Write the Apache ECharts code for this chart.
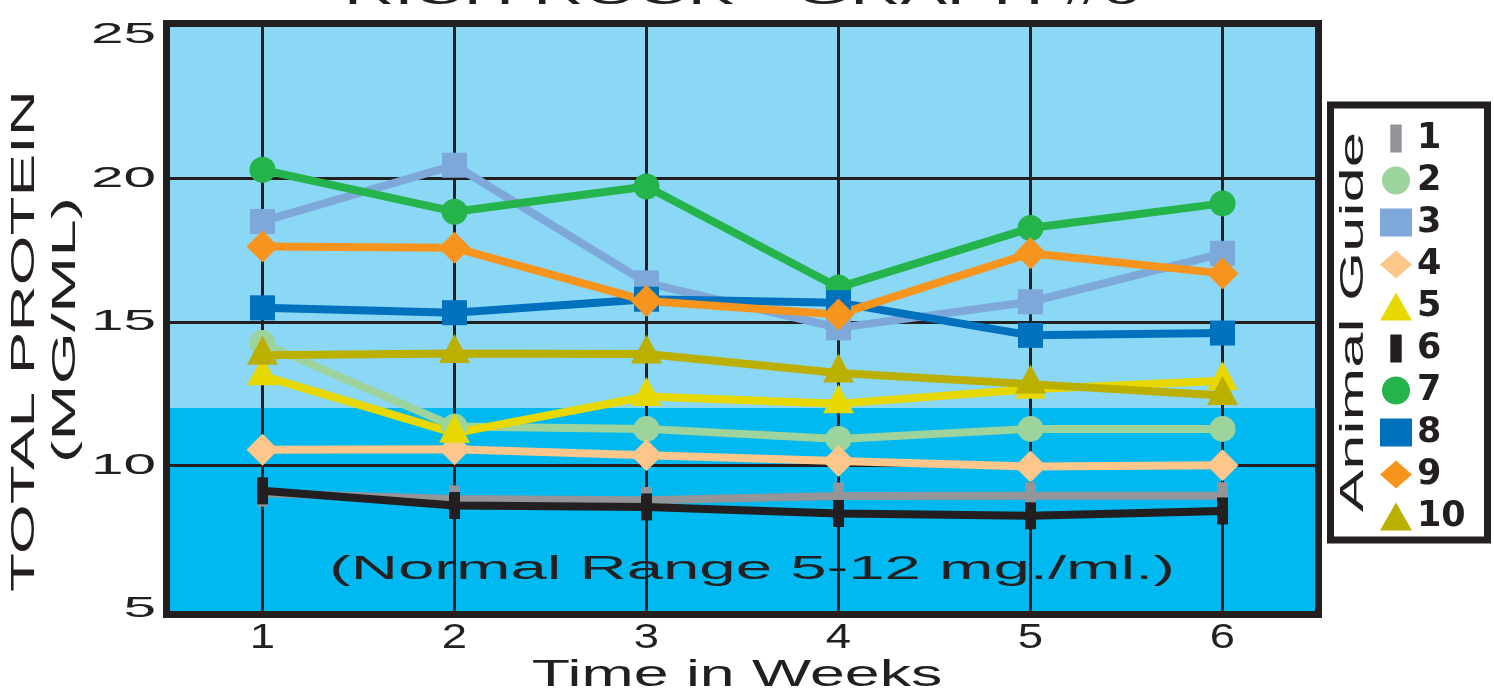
<!DOCTYPE html>
<html>
<head>
<meta charset="utf-8">
<title>Total Protein</title>
<script src="https://cdn.jsdelivr.net/npm/echarts@6/dist/echarts.min.js"></script>
<style>
  html, body { margin: 0; padding: 0; background: #ffffff; }
  #chart { width: 1494px; height: 694px; }
</style>
</head>
<body>
<div id="chart"></div>
<script>
// Weekly total protein readings (mg/ml) for each animal
const weeks = [1, 2, 3, 4, 5, 6];
const animals = ['1', '2', '3', '4', '5', '6', '7', '8', '9', '10'];
const animal1 = [9.03, 8.83, 8.78, 8.93, 8.94, 8.94];
const animal2 = [14.26, 11.35, 11.27, 10.92, 11.27, 11.27];
const animal3 = [18.5, 20.46, 16.36, 14.79, 15.7, 17.39];
const animal4 = [10.54, 10.56, 10.35, 10.15, 9.96, 10.0];
const animal5 = [13.12, 11.12, 12.4, 12.15, 12.65, 12.95];
const animal6 = [9.11, 8.6, 8.55, 8.32, 8.24, 8.41];
const animal7 = [20.3, 18.84, 19.72, 16.2, 18.27, 19.13];
const animal8 = [15.49, 15.32, 15.79, 15.67, 14.53, 14.61];
const animal9 = [17.63, 17.58, 15.73, 15.26, 17.39, 16.69];
const animal10 = [13.84, 13.9, 13.88, 13.22, 12.83, 12.43];
const yTickLabels = [5, 10, 15, 20, 25];
const normalRangeTop = 12;
const yMin = 4.8;
const yMax = 25.4;

const animalValues = [animal1, animal2, animal3, animal4, animal5,
                      animal6, animal7, animal8, animal9, animal10];

// marker look for each animal
const DARK = '#231f20';
const BAR = 'path://M0,0H11V27H0Z';
const looks = [
  { color: '#939598', symbol: 'rect', size: [11, 27], icon: BAR },
  { color: '#9dd39c', symbol: 'circle', size: 26, icon: 'circle' },
  { color: '#7ea8d9', symbol: 'rect', size: 25, icon: 'rect' },
  { color: '#fdc68a', symbol: 'diamond', size: 32, icon: 'diamond' },
  { color: '#e6d800', symbol: 'triangle', size: [31, 29], offset: [0, -5], icon: 'triangle' },
  { color: DARK, symbol: 'rect', size: [11, 27], icon: BAR },
  { color: '#25b34b', symbol: 'circle', size: 26, icon: 'circle' },
  { color: '#0071bc', symbol: 'rect', size: 25, icon: 'rect' },
  { color: '#f7941d', symbol: 'diamond', size: 32, icon: 'diamond' },
  { color: '#bbaf00', symbol: 'triangle', size: [31, 29], offset: [0, -5], icon: 'triangle' }
];

const FONT = 'Liberation Sans, Arial, sans-serif';

// background bands: whole plot light, normal range darker
const bandSeries = [
  {
    type: 'line', silent: true, z: -2, symbol: 'none',
    data: [[0.5, yMax], [6.5, yMax]],
    lineStyle: { width: 0 },
    areaStyle: { color: '#8bd7f6', opacity: 1, origin: 'start' }
  },
  {
    type: 'line', silent: true, z: -1, symbol: 'none',
    data: [[0.5, normalRangeTop], [6.5, normalRangeTop]],
    lineStyle: { width: 0 },
    areaStyle: { color: '#00b9f0', opacity: 1, origin: 'start' }
  }
];

const animalSeries = animals.map((name, i) => ({
  name: name,
  type: 'line',
  data: weeks.map((w, k) => [w, animalValues[i][k]]),
  symbol: looks[i].symbol,
  symbolSize: looks[i].size,
  symbolOffset: looks[i].offset || [0, 0],
  showAllSymbol: true,
  lineStyle: { color: looks[i].color, width: 8 },
  itemStyle: { color: looks[i].color, borderWidth: 0 },
  emphasis: { disabled: true }
}));

const chart = echarts.init(document.getElementById('chart'), null, { renderer: 'canvas' });

const option = {
  animation: false,
  backgroundColor: '#ffffff',
  grid: {
    left: 166.5, right: 175.5, top: 23.5, bottom: 79.5,
    show: true, z: 10,
    backgroundColor: 'transparent',
    borderColor: DARK, borderWidth: 7
  },
  xAxis: {
    type: 'value', min: 0.5, max: 6.5, splitNumber: 6,
    axisLine: { show: false }, axisTick: { show: false }, axisLabel: { show: false },
    splitLine: { show: true, lineStyle: { color: DARK, width: 3 } }
  },
  yAxis: {
    type: 'value', min: yMin, max: yMax,
    axisLine: { show: false }, axisTick: { show: false }, axisLabel: { show: false },
    splitLine: {
      show: true,
      lineStyle: {
        // lines at 4.8, 5, 10, 15, 20, 25, 25.4: only the inner ones are drawn
        color: ['transparent', 'transparent', DARK, DARK, DARK, 'transparent', 'transparent'],
        width: 3
      }
    }
  },
  legend: {
    orient: 'vertical',
    left: 1380, top: 121,
    padding: 0,
    itemWidth: 32, itemHeight: 28, itemGap: 7,
    selectedMode: false,
    z: 20,
    data: animals.map((name, i) => ({ name: name, icon: looks[i].icon })),
    textStyle: { color: DARK, fontFamily: 'DejaVu Sans', fontWeight: 'bold', fontSize: 35, lineHeight: 28 }
  },
  series: bandSeries.concat(animalSeries)
};

chart.setOption(option);

// texts and frames drawn around the plot
const graphics = [
  {
    type: 'text', x: 742, y: -6, scaleX: 1.88,
    style: { text: 'RICH ROCK - GRAPH #6', fontFamily: FONT, fontSize: 37,
             fill: DARK, align: 'center', verticalAlign: 'middle' }
  },
  {
    type: 'text', x: 25, y: 341, rotation: Math.PI / 2, scaleX: 1.88,
    style: { text: 'TOTAL PROTEIN', fontFamily: FONT, fontSize: 34,
             fill: DARK, align: 'center', verticalAlign: 'middle' }
  },
  {
    type: 'text', x: 66, y: 330, rotation: Math.PI / 2, scaleX: 2.05,
    style: { text: '(MG/ML)', fontFamily: FONT, fontSize: 33,
             fill: DARK, align: 'center', verticalAlign: 'middle' }
  },
  {
    type: 'text', x: 737, y: 676, scaleX: 1.67,
    style: { text: 'Time in Weeks', fontFamily: FONT, fontSize: 37.5,
             fill: DARK, align: 'center', verticalAlign: 'middle' }
  },
  {
    type: 'text', x: 752, y: 570, scaleX: 1.95, z: 5,
    style: { text: '(Normal Range 5-12 mg./ml.)', fontFamily: FONT, fontSize: 33.5,
             fill: DARK, align: 'center', verticalAlign: 'middle' }
  },
  {
    type: 'rect', z: 1,
    shape: { x: 1330.5, y: 105, width: 157, height: 435 },
    style: { fill: '#ffffff', stroke: DARK, lineWidth: 7 }
  },
  {
    type: 'text', x: 1354, y: 322, rotation: Math.PI / 2, scaleX: 1.89, z: 5,
    style: { text: 'Animal Guide', fontFamily: FONT, fontSize: 33.5,
             fill: DARK, align: 'center', verticalAlign: 'middle' }
  }
];

// tick labels placed through the axes' own scales
yTickLabels.forEach(v => {
  const py = chart.convertToPixel({ yAxisIndex: 0 }, v);
  graphics.push({
    type: 'text', x: 156, y: py, scaleX: 1.95,
    style: { text: String(v), fontFamily: FONT, fontSize: 30,
             fill: DARK, align: 'right', verticalAlign: 'middle' }
  });
});
weeks.forEach(w => {
  const px = chart.convertToPixel({ xAxisIndex: 0 }, w);
  graphics.push({
    type: 'text', x: px, y: 638, scaleX: 1.3,
    style: { text: String(w), fontFamily: FONT, fontSize: 35,
             fill: DARK, align: 'center', verticalAlign: 'middle' }
  });
});

chart.setOption({ graphic: graphics });
</script>
</body>
</html>
